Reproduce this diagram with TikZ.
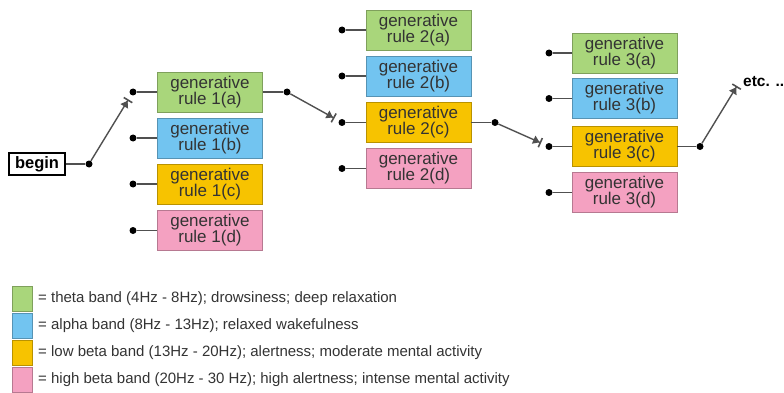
\documentclass[tikz,border=0pt]{standalone}
\usepackage{fontspec}
\setmainfont{Liberation Sans}
\usetikzlibrary{arrows.meta}
\definecolor{cgreen}{HTML}{A9D67B}
\definecolor{cblue}{HTML}{72C4F0}
\definecolor{cyellow}{HTML}{F7C300}
\definecolor{cpink}{HTML}{F4A1C1}
\definecolor{ctext}{HTML}{333333}
\definecolor{cline}{HTML}{505050}
\tikzset{
  rulebox/.style={draw=#1!75!black, fill=#1, line width=0.9pt, minimum width=105pt, minimum height=40pt,
    inner sep=0pt, align=center, text=ctext, font=\fontsize{17}{16}\selectfont},
  pin/.style={circle, fill=black, inner sep=0pt, minimum size=7pt},
  wire/.style={draw=cline, line width=1.4pt},
  sw/.style={wire, -{Triangle[length=6.5pt,width=8.5pt]Bar[width=10pt,line width=1.6pt]}, shorten >=5pt},
  swatch/.style={draw=#1!75!black, fill=#1, line width=0.9pt, minimum width=20pt, minimum height=25pt, inner sep=0pt},
  legtext/.style={anchor=west, inner sep=0pt, text=ctext, font=\fontsize{15}{15}\selectfont}
}
\begin{document}
\begin{tikzpicture}[x=1pt,y=-1pt]
\useasboundingbox (0,0) rectangle (784,393);
% begin
\node[draw=black, line width=1.5pt, fill=white, inner sep=0pt, minimum width=56pt, minimum height=22pt,
  font=\bfseries\fontsize{16.5}{16}\selectfont] (begin) at (37,164) {begin};
\node[pin] (j0) at (89,164) {};
% column 1
\node[rulebox=cgreen] (r1a) at (210,92) {generative\\rule 1(a)};
\node[rulebox=cblue] (r1b) at (210,138) {generative\\rule 1(b)};
\node[rulebox=cyellow] (r1c) at (210,184) {generative\\rule 1(c)};
\node[rulebox=cpink] (r1d) at (210,230.5) {generative\\rule 1(d)};
\node[pin] (d1a) at (133,92) {};
\node[pin] (d1b) at (133,138) {};
\node[pin] (d1c) at (133,184) {};
\node[pin] (d1d) at (133,230.5) {};
\node[pin] (j1) at (287,92) {};
% column 2
\node[rulebox=cgreen] (r2a) at (418.5,30) {generative\\rule 2(a)};
\node[rulebox=cblue] (r2b) at (418.5,76) {generative\\rule 2(b)};
\node[rulebox=cyellow] (r2c) at (418.5,122.5) {generative\\rule 2(c)};
\node[rulebox=cpink] (r2d) at (418.5,168.5) {generative\\rule 2(d)};
\node[pin] (d2a) at (342,30) {};
\node[pin] (d2b) at (342,76) {};
\node[pin] (d2c) at (342,122.5) {};
\node[pin] (d2d) at (342,168.5) {};
\node[pin] (j2) at (495,122.5) {};
% column 3
\node[rulebox=cgreen] (r3a) at (624.5,53) {generative\\rule 3(a)};
\node[rulebox=cblue] (r3b) at (624.5,98.5) {generative\\rule 3(b)};
\node[rulebox=cyellow] (r3c) at (624.5,146.5) {generative\\rule 3(c)};
\node[rulebox=cpink] (r3d) at (624.5,192.5) {generative\\rule 3(d)};
\node[pin] (d3a) at (549,53) {};
\node[pin] (d3b) at (549,98.5) {};
\node[pin] (d3c) at (549,146.5) {};
\node[pin] (d3d) at (549,192.5) {};
\node[pin] (j3) at (700,146.5) {};
\coordinate (etcpt) at (737,86);
\node[anchor=west, inner sep=0pt, font=\bfseries\fontsize{15.5}{15}\selectfont] (etc) at (743,82) {etc. ..};
% wires
\draw[wire] (begin) -- (j0);
\foreach \c in {1,2,3}{
  \foreach \r in {a,b,c,d}{
    \draw[wire] (d\c\r) -- (r\c\r);
  }
}
\draw[wire] (r1a) -- (j1);
\draw[wire] (r2c) -- (j2);
\draw[wire] (r3c) -- (j3);
\draw[sw] (j0) -- (d1a);
\draw[sw] (j1) -- (d2c);
\draw[sw] (j2) -- (d3c);
\draw[sw, shorten >=0pt] (j3) -- (etcpt);
% legend
\node[swatch=cgreen] (s1) at (22,299) {};
\node[swatch=cblue] (s2) at (22,326) {};
\node[swatch=cyellow] (s3) at (22,353) {};
\node[swatch=cpink] (s4) at (22,380) {};
\node[legtext] (l1) at (38,299) {= theta band (4Hz - 8Hz); drowsiness; deep relaxation};
\node[legtext] (l2) at (38,326) {= alpha band (8Hz - 13Hz); relaxed wakefulness};
\node[legtext] (l3) at (38,353) {= low beta band (13Hz - 20Hz); alertness; moderate mental activity};
\node[legtext] (l4) at (38,380) {= high beta band (20Hz - 30 Hz); high alertness; intense mental activity};
\end{tikzpicture}
\end{document}
